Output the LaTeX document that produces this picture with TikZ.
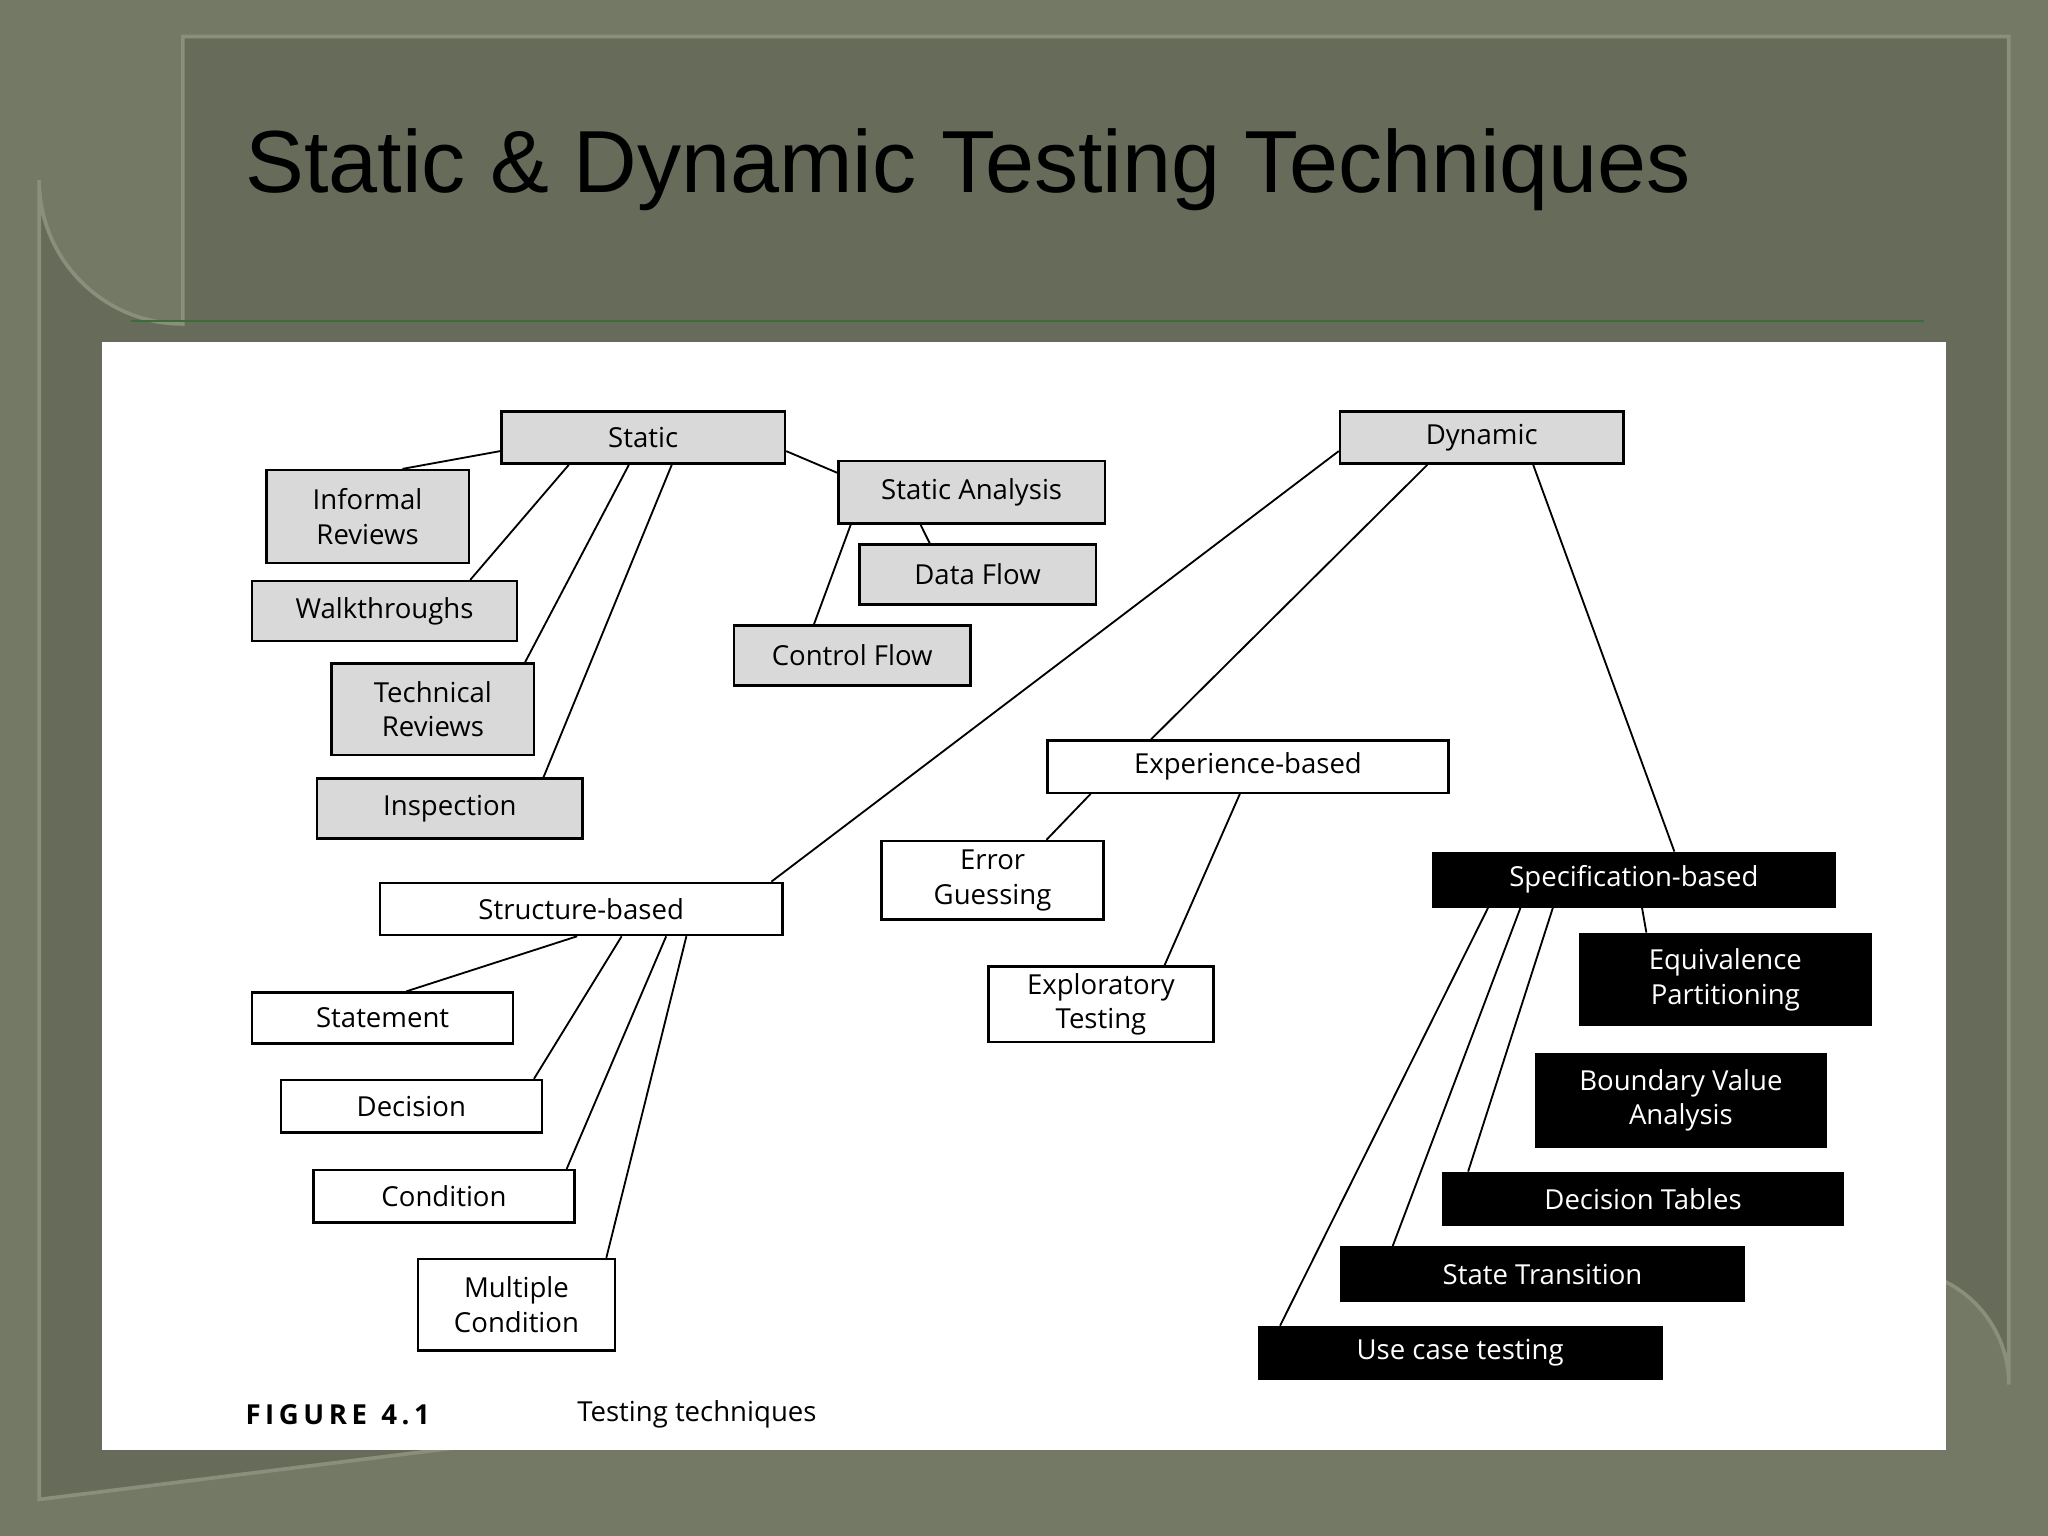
\documentclass[tikz,border=0pt]{standalone}
\usepackage{fontspec}
\setmainfont{Open Sans}
\newfontfamily\titlefont{Liberation Sans}
\usetikzlibrary{calc}
\definecolor{outerbg}{HTML}{747966}
\definecolor{panel}{HTML}{676B5A}
\definecolor{panelrim}{HTML}{8A8F7C}
\definecolor{rule}{HTML}{3E6B3A}
\definecolor{boxgray}{HTML}{D9D9D9}
\tikzset{
  base/.style={draw=black, line width=1.3pt, inner sep=0pt, anchor=north west, align=center, font=\fontsize{15}{19}\selectfont},
  gbox/.style={base, fill=boxgray},
  wbox/.style={base, fill=white},
  bbox/.style={base, fill=black, text=white},
  conn/.style={line width=1pt, black},
}
\begin{document}
\begin{tikzpicture}[x=0.025cm,y=-0.025cm]
\useasboundingbox (0,0) rectangle (1568,1176);
\fill[outerbg] (0,0) rectangle (1568,1176);
\fill[panel, draw=panelrim, line width=2pt] (140,28) -- (1538,28) -- (1538,1060) arc[start angle=0,end angle=-90,radius=88] -- (30,1148) -- (30,138) arc[start angle=180,end angle=90,radius=110] -- cycle;
\node[anchor=west, font=\titlefont\fontsize{48}{56}\selectfont] (title) at (183,130) {Static \& Dynamic Testing Techniques};
\draw[rule, line width=1.2pt] (100,246) -- (1473,246);
\fill[white] (78,262) rectangle (1490,1110);

% static side
\node[gbox, minimum width=5.425cm, minimum height=1cm] (S) at (383,314) {Static};
\node[gbox, minimum width=3.875cm, minimum height=1.775cm] (IR) at (203,359) {Informal\\Reviews};
\node[gbox, minimum width=5.075cm, minimum height=1.15cm] (W) at (192,444) {Walkthroughs};
\node[gbox, minimum width=3.875cm, minimum height=1.75cm] (TR) at (253,507) {Technical\\Reviews};
\node[gbox, minimum width=5.075cm, minimum height=1.15cm] (I) at (242,595) {Inspection};
\node[gbox, minimum width=5.1cm, minimum height=1.2cm] (SA) at (641,352) {Static Analysis};
\node[gbox, minimum width=4.525cm, minimum height=1.15cm] (DF) at (657,416) {Data Flow};
\node[gbox, minimum width=4.525cm, minimum height=1.15cm] (CF) at (561,478) {Control Flow};

% dynamic side
\node[gbox, minimum width=5.425cm, minimum height=1cm] (D) at (1025,314) {Dynamic};
\node[wbox, minimum width=7.675cm, minimum height=1cm] (E) at (801,566) {Experience-based};
\node[wbox, minimum width=4.25cm, minimum height=1.5cm] (EG) at (674,643) {Error\\Guessing};
\node[wbox, minimum width=4.3cm, minimum height=1.45cm] (ET) at (756,739) {Exploratory\\Testing};
\node[wbox, minimum width=7.7cm, minimum height=1cm] (SB) at (290,675) {Structure-based};
\node[wbox, minimum width=5cm, minimum height=0.975cm] (ST) at (192,759) {Statement};
\node[wbox, minimum width=5cm, minimum height=1cm] (DE) at (214,826) {Decision};
\node[wbox, minimum width=5cm, minimum height=1cm] (CO) at (239,895) {Condition};
\node[wbox, minimum width=3.775cm, minimum height=1.75cm] (MC) at (319,963) {Multiple\\Condition};
\node[bbox, minimum width=7.7cm, minimum height=1.025cm] (SP) at (1096,652) {Specification-based};
\node[bbox, minimum width=5.55cm, minimum height=1.75cm] (EP) at (1209,714) {Equivalence\\Partitioning};
\node[bbox, minimum width=5.55cm, minimum height=1.775cm] (BV) at (1175,806) {Boundary Value\\Analysis};
\node[bbox, minimum width=7.65cm, minimum height=1cm] (DT) at (1104,897) {Decision Tables};
\node[bbox, minimum width=7.7cm, minimum height=1.025cm] (STT) at (1026,954) {State Transition};
\node[bbox, minimum width=7.7cm, minimum height=1cm] (UC) at (963,1015) {Use case testing};

\node[anchor=west, font=\bfseries\fontsize{15}{18}\selectfont] (fig) at (183,1083) {F\,I\,G\,U\,R\,E\ \ 4\,.\,1};
\node[anchor=west, font=\fontsize{15}{18}\selectfont] (cap) at (437,1083) {Testing techniques};

% connectors
\draw[conn] ($(S.west)!0.5!(S.south west)$) -- ($(IR.north west)!0.67!(IR.north east)$);
\draw[conn] ($(S.south west)!0.24!(S.south east)$) -- ($(W.north west)!0.82!(W.north east)$);
\draw[conn] ($(S.south west)!0.45!(S.south east)$) -- ($(TR.north west)!0.95!(TR.north east)$);
\draw[conn] ($(S.south west)!0.60!(S.south east)$) -- ($(I.north west)!0.85!(I.north east)$);
\draw[conn] ($(S.east)!0.5!(S.south east)$) -- ($(SA.north west)!0.2!(SA.south west)$);
\draw[conn] ($(SA.south west)!0.05!(SA.south east)$) -- ($(CF.north west)!0.34!(CF.north east)$);
\draw[conn] ($(SA.south west)!0.31!(SA.south east)$) -- ($(DF.north west)!0.3!(DF.north east)$);
\draw[conn] ($(D.west)!0.5!(D.south west)$) -- ($(SB.north west)!0.97!(SB.north east)$);
\draw[conn] ($(D.south west)!0.31!(D.south east)$) -- ($(E.north west)!0.26!(E.north east)$);
\draw[conn] ($(D.south west)!0.68!(D.south east)$) -- ($(SP.north west)!0.60!(SP.north east)$);
\draw[conn] ($(E.south west)!0.11!(E.south east)$) -- ($(EG.north west)!0.74!(EG.north east)$);
\draw[conn] ($(E.south west)!0.48!(E.south east)$) -- ($(ET.north west)!0.78!(ET.north east)$);
\draw[conn] ($(SB.south west)!0.49!(SB.south east)$) -- ($(ST.north west)!0.59!(ST.north east)$);
\draw[conn] ($(SB.south west)!0.60!(SB.south east)$) -- ($(DE.north west)!0.965!(DE.north east)$);
\draw[conn] ($(SB.south west)!0.71!(SB.south east)$) -- ($(CO.north west)!0.965!(CO.north east)$);
\draw[conn] ($(SB.south west)!0.76!(SB.south east)$) -- ($(MC.north west)!0.95!(MC.north east)$);
\draw[conn] ($(SP.south west)!0.52!(SP.south east)$) -- ($(EP.north west)!0.23!(EP.north east)$);
\draw[conn] ($(SP.south west)!0.14!(SP.south east)$) -- ($(UC.north west)!0.055!(UC.north east)$);
\draw[conn] ($(SP.south west)!0.22!(SP.south east)$) -- ($(STT.north west)!0.13!(STT.north east)$);
\draw[conn] ($(SP.south west)!0.30!(SP.south east)$) -- ($(DT.north west)!0.065!(DT.north east)$);
\end{tikzpicture}
\end{document}
